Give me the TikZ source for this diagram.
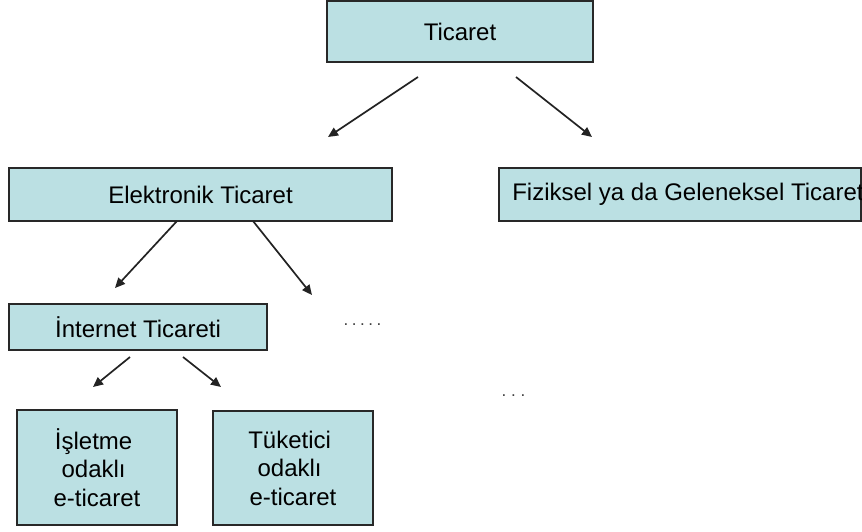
\documentclass[tikz,border=0pt]{standalone}
\usepackage{fontspec}
\setmainfont{Liberation Sans}
\usetikzlibrary{arrows.meta}
\definecolor{boxfill}{RGB}{187,224,227}
\definecolor{boxline}{RGB}{40,40,40}
\definecolor{arrowline}{RGB}{35,35,35}
\newcommand{\tsp}{\kern6.7pt}
\tikzset{
  px/.style={x=1pt,y=-1pt},
  box/.style={draw=boxline, line width=1.8pt, fill=boxfill, inner sep=0pt,
    font=\fontsize{24}{28.5}\selectfont, align=center},
  label/.style={inner sep=0pt, font=\fontsize{24}{28.5}\selectfont},
  flow/.style={draw=arrowline, line width=1.7pt,
    -{Triangle[length=10pt,width=9pt]}},
  dots/.style={inner sep=0pt, text=black!75, font=\fontsize{17}{17}\selectfont}
}
\begin{document}
\begin{tikzpicture}[px]
  \useasboundingbox (0,0) rectangle (862,531);

  % boxes
  \node[box, minimum width=266pt, minimum height=61pt] (tic) at (460,31.5) {Ticaret};
  \node[box, minimum width=383pt, minimum height=53pt] (ele) at (200.5,194.5) {Elektronik Ticaret};
  \node[box, minimum width=362pt, minimum height=53pt] (fiz) at (680,194.5) {};
  \node[label, anchor=west] (fiztext) at ([xshift=14pt]fiz.west) {Fiziksel ya da Geleneksel Ticaret};
  \node[box, minimum width=258pt, minimum height=46pt] (int) at (138,327) {İnternet Ticareti};
  \node[box, minimum width=160pt, minimum height=115pt] (isl) at (97,467.5) {İşletme\tsp\\odaklı\tsp\\e-ticaret};
  \node[box, minimum width=160pt, minimum height=114pt] (tuk) at (293,468) {Tüketici\tsp\\odaklı\tsp\\e-ticaret};

  % free-standing arrow ends
  \coordinate (t1) at (418,77);  \coordinate (h1) at (328,137);
  \coordinate (t2) at (516,77);  \coordinate (h2) at (592,137);
  \coordinate (t3) at (177,221); \coordinate (h3) at (115,288);
  \coordinate (t4) at (253,221); \coordinate (h4) at (312,295);
  \coordinate (t5) at (130,357); \coordinate (h5) at (93,387);
  \coordinate (t6) at (183,357); \coordinate (h6) at (221,387);

  \draw[flow] (t1) -- (h1);
  \draw[flow] (t2) -- (h2);
  \draw[flow] (t3) -- (h3);
  \draw[flow] (t4) -- (h4);
  \draw[flow] (t5) -- (h5);
  \draw[flow] (t6) -- (h6);

  % ellipses for omitted branches
  \node[dots, anchor=base west] (more1) at (343.5,325) {.\kern3.5pt.\kern3.5pt.\kern3.5pt.\kern3.5pt.};
  \node[dots, anchor=base west] (more2) at (501.5,396) {.\kern4.8pt.\kern4.8pt.};
\end{tikzpicture}
\end{document}
